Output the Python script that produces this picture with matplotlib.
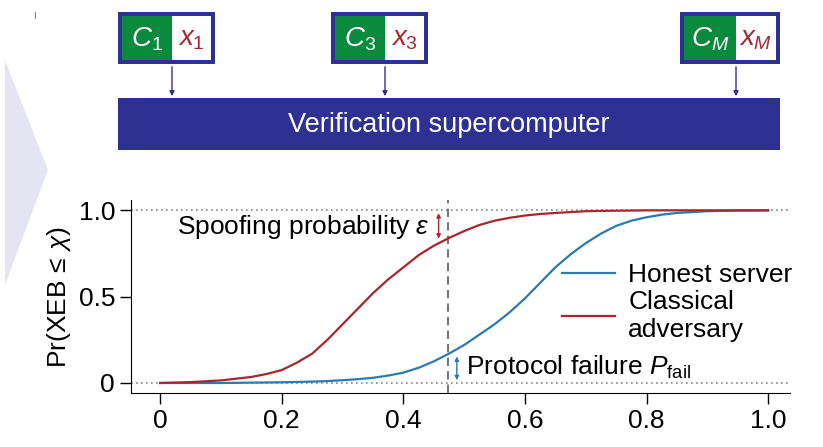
import matplotlib
matplotlib.use("Agg")
import matplotlib.pyplot as plt
from matplotlib.patches import Rectangle, Polygon

plt.rcParams["font.family"] = "Liberation Sans"
plt.rcParams["mathtext.fontset"] = "custom"
plt.rcParams["mathtext.it"] = "Liberation Sans:italic"
plt.rcParams["mathtext.rm"] = "Liberation Sans"

xeb = [0.0, 0.05, 0.1, 0.15, 0.175, 0.2, 0.225, 0.25, 0.275, 0.3, 0.325, 0.35, 0.375, 0.4, 0.425, 0.45,
       0.475, 0.5, 0.525, 0.55, 0.575, 0.6, 0.625, 0.65, 0.675, 0.7, 0.725, 0.75, 0.775, 0.8, 0.825,
       0.85, 0.9, 0.95, 1.0]
honest = [0.0, 0.0, 0.0, 0.002, 0.003, 0.004, 0.006, 0.008, 0.011, 0.016, 0.022, 0.03, 0.043, 0.06, 0.088, 0.125,
          0.17, 0.22, 0.28, 0.34, 0.41, 0.49, 0.58, 0.67, 0.745, 0.81, 0.865, 0.91, 0.94, 0.96, 0.975,
          0.985, 0.995, 0.999, 1.0]
classical = [0.0, 0.005, 0.015, 0.035, 0.052, 0.075, 0.118, 0.17, 0.25, 0.34, 0.43, 0.52, 0.60, 0.67, 0.74, 0.795,
             0.84, 0.88, 0.915, 0.94, 0.957, 0.97, 0.979, 0.985, 0.99, 0.995, 0.997, 0.998, 0.999, 1.0, 1.0,
             1.0, 1.0, 1.0, 1.0]
threshold = 0.473
eps_val = 0.82
pfail_val = 0.17
xticks = [0, 0.2, 0.4, 0.6, 0.8, 1.0]
xticklabels = ["0", "0.2", "0.4", "0.6", "0.8", "1.0"]
yticks = [0, 0.5, 1.0]
yticklabels = ["0", "0.5", "1.0"]
boxes = [("C_1", "x_1"), ("C_3", "x_3"), ("C_M", "x_M")]
box_left = [118, 331, 680]

fig = plt.figure(figsize=(8.23, 4.47), dpi=100)
navy = "#2e3192"
green = "#0a8a3c"
red = "#a8262e"
blue = "#2b7bb0"

s = fig.add_axes([0, 0, 1, 1])
s.set_xlim(0, 823); s.set_ylim(447, 0); s.axis("off")
s.add_patch(Polygon([[5, 60], [48, 170], [5, 285]], closed=True, color="#e4e4f2", lw=0))
s.plot([35, 35], [12, 18], color="#888888", lw=0.8)
for (c, xx), bl in zip(boxes, box_left):
    w = 100 if bl == 680 else 97
    s.add_patch(Rectangle((bl, 12), w, 52, facecolor=navy, lw=0))
    gw = 52 if bl == 680 else 50
    s.add_patch(Rectangle((bl + 4, 16), gw, 44, facecolor=green, lw=0))
    s.add_patch(Rectangle((bl + 4 + gw, 16), w - 8 - gw, 44, facecolor="white", lw=0))
    s.text(bl + 4 + gw / 2, 39, f"${c}$", color="white", fontsize=20, ha="center", va="center")
    s.text(bl + 4 + gw + (w - 8 - gw) / 2, 39, f"${xx}$", color=red, fontsize=20, ha="center", va="center")
    ax_x = bl + 4 + gw
    s.annotate("", xy=(ax_x, 99), xytext=(ax_x, 64),
               arrowprops=dict(arrowstyle="-|>", color=navy, lw=1, mutation_scale=7))
s.add_patch(Rectangle((118, 98), 662, 52, facecolor=navy, lw=0))
s.text(449, 125, "Verification supercomputer", color="white", fontsize=19.5, ha="center", va="center")

ax = fig.add_axes([131 / 823, 1 - 393 / 447, (790 - 131) / 823, (393 - 200) / 447])
ax.set_xlim(-0.048, 1.036); ax.set_ylim(-0.058, 1.06)
ax.axhline(0, color="#888888", ls=(0, (1, 2)), lw=1.2)
ax.axhline(1, color="#888888", ls=(0, (1, 2)), lw=1.2)
ax.axvline(threshold, color="#777777", ls=(0, (4, 2.5)), lw=1.5)
ax.plot(xeb, honest, color=blue, lw=1.6, label="Honest server")
ax.plot(xeb, classical, color=red, lw=1.6, label="Classical\nadversary")
ax.annotate("", xy=(threshold - 0.015, 1.0), xytext=(threshold - 0.015, eps_val),
            arrowprops=dict(arrowstyle="<|-|>", color=red, lw=1, mutation_scale=6))
ax.annotate("", xy=(threshold + 0.015, 0.0), xytext=(threshold + 0.015, pfail_val),
            arrowprops=dict(arrowstyle="<|-|>", color=blue, lw=1, mutation_scale=6))
ax.text(threshold - 0.03, 0.905, r"Spoofing probability $\varepsilon$", fontsize=19, ha="right", va="center")
ax.text(threshold + 0.03, 0.09, r"Protocol failure $P_{\mathrm{fail}}$", fontsize=19, ha="left", va="center")
ax.legend(loc="center right", bbox_to_anchor=(1.04, 0.47), frameon=False, fontsize=19,
          handlelength=2.0, labelspacing=0.1, handletextpad=0.5)
ax.set_xticks(xticks); ax.set_xticklabels(xticklabels, fontsize=19)
ax.set_yticks(yticks); ax.set_yticklabels(yticklabels, fontsize=19)
ax.set_ylabel(r"Pr(XEB$\,\leq\,\chi$)", fontsize=19)
for sp in ["top", "right"]:
    ax.spines[sp].set_visible(False)
ax.tick_params(length=8, width=1)
fig.savefig("out.png", dpi=100)
